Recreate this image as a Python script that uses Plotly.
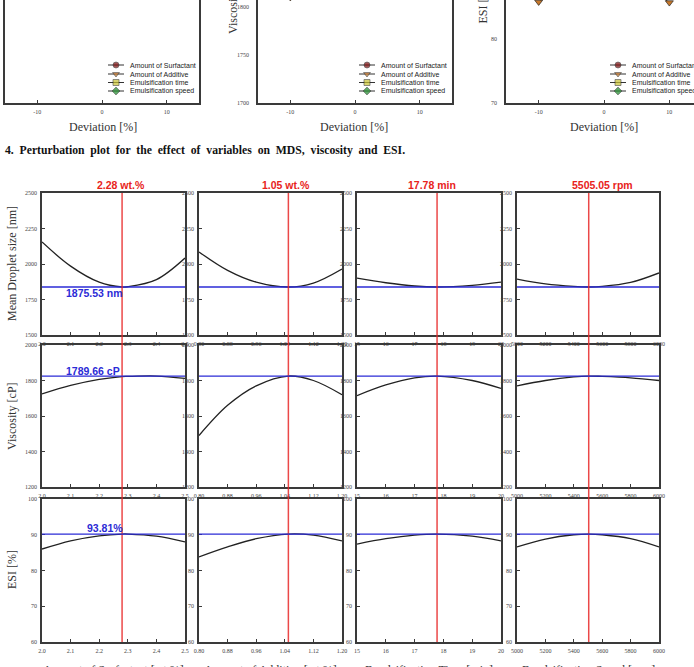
import plotly.graph_objects as go

W, H = 694, 667
def px(x): return x / W
def py(y): return 1 - y / H

# ---------------- data ----------------
# perturbation plot (top, cropped)
deviation = [-10, -5, 0, 5, 10]
pert_names = ["Amount of Surfactant", "Amount of Additive", "Emulsification time", "Emulsification speed"]
pert_colors = ["#7a0a0a", "#c8782a", "#c8c232", "#1f8a2a"]
pert_symbols = ["circle", "triangle-down", "square", "diamond"]
mds_pert = [[1960, 1870, 1838, 1852, 1905], [1930, 1862, 1838, 1850, 1880],
            [1870, 1845, 1838, 1842, 1855], [1880, 1848, 1838, 1845, 1870]]
visc_pert = [[1812, 1822, 1825, 1824, 1818], [1810, 1820, 1825, 1822, 1812],
             [1815, 1823, 1825, 1824, 1818], [1818, 1823, 1825, 1824, 1820]]
esi_pert = [[87.5, 89.6, 90.2, 89.8, 88.6], [85.8, 89.0, 90.2, 89.4, 85.7],
            [88.9, 89.9, 90.2, 90.0, 89.3], [87.6, 89.5, 90.2, 89.6, 87.6]]

# optimisation grid (bottom)
var_x = [
    [2.0, 2.1, 2.2, 2.28, 2.3, 2.4, 2.5],
    [0.80, 0.88, 0.96, 1.05, 1.12, 1.20],
    [15, 16, 17, 17.78, 19, 20],
    [5000, 5200, 5400, 5505, 5600, 5800, 6000],
]
mds_vals = [
    [2155, 1985, 1872, 1838, 1840, 1890, 2042],
    [2085, 1955, 1872, 1838, 1866, 1965],
    [1900, 1868, 1845, 1838, 1850, 1873],
    [1894, 1860, 1842, 1838, 1842, 1870, 1937],
]
visc_vals = [
    [1724, 1772, 1806, 1822, 1823, 1825, 1812],
    [1490, 1660, 1770, 1825, 1800, 1720],
    [1715, 1775, 1815, 1825, 1800, 1755],
    [1770, 1800, 1820, 1825, 1823, 1815, 1800],
]
esi_vals = [
    [86.0, 88.3, 89.7, 90.2, 90.2, 89.6, 88.0],
    [83.8, 86.6, 88.9, 90.2, 89.9, 88.3],
    [87.4, 88.9, 89.9, 90.2, 89.6, 88.3],
    [86.6, 88.8, 90.0, 90.2, 90.0, 88.9, 86.6],
]
optimum = [2.28, 1.05, 17.78, 5505.05]
optimum_labels = ["2.28 wt.%", "1.05 wt.%", "17.78 min", "5505.05 rpm"]
resp_opt_line = [1838, 1825, 90.2]
resp_opt_labels = ["1875.53 nm", "1789.66 cP", "93.81%"]
resp_titles = ["Mean Droplet size [nm]", "Viscosity [cP]", "ESI [%]"]
var_titles = ["Amount of Surfactant [wt.%]", "Amount of Additive [wt.%]",
              "Emulsification Time [min]", "Emulsification Speed [rpm]"]
x_ranges = [[2.0, 2.5], [0.80, 1.20], [15, 20], [5000, 6000]]
x_ticks = [[2.0, 2.1, 2.2, 2.3, 2.4, 2.5], [0.80, 0.88, 0.96, 1.04, 1.12, 1.20],
           [15, 16, 17, 18, 19, 20], [5000, 5200, 5400, 5600, 5800, 6000]]
x_ticktext = [["2.0", "2.1", "2.2", "2.3", "2.4", "2.5"],
              ["0.80", "0.88", "0.96", "1.04", "1.12", "1.20"],
              ["15", "16", "17", "18", "19", "20"],
              ["5000", "5200", "5400", "5600", "5800", "6000"]]
y_ranges = [[1500, 2500], [1200, 2000], [60, 100]]
y_ticks = [[1500, 1750, 2000, 2250, 2500], [1200, 1400, 1600, 1800, 2000], [60, 70, 80, 90, 100]]

# ---------------- layout geometry (pixels) ----------------
cols = [(42, 185), (199, 342), (357, 501), (517, 659)]
rows = [(193, 335), (345, 487), (499, 642)]

SERIF = "Liberation Serif"
SANS = "Liberation Sans"
FRAME = "#3a3a3a"

fig = go.Figure()
layout = dict(width=W, height=H, margin=dict(l=0, r=0, t=0, b=0, pad=0, autoexpand=False),
              paper_bgcolor="white", plot_bgcolor="rgba(0,0,0,0)", showlegend=False)
shapes, annotations = [], []

def ax_style(**kw):
    d = dict(showline=True, linecolor=FRAME, linewidth=1.5, ticks="inside", ticklen=3,
             tickcolor=FRAME, tickwidth=1, showgrid=False, zeroline=False, automargin=False,
             tickfont=dict(family=SERIF, size=6, color="#444"), ticklabelstandoff=2)
    d.update(kw)
    return d

all_vals = [mds_vals, visc_vals, esi_vals]
n = 0
for r in range(3):
    for c in range(4):
        n += 1
        xa = "xaxis" if n == 1 else f"xaxis{n}"
        ya = "yaxis" if n == 1 else f"yaxis{n}"
        xr = "x" if n == 1 else f"x{n}"
        yr = "y" if n == 1 else f"y{n}"
        layout[xa] = ax_style(domain=[px(cols[c][0]), px(cols[c][1])], range=x_ranges[c],
                              tickvals=x_ticks[c], ticktext=x_ticktext[c], mirror=True,
                              anchor=yr)
        layout[ya] = ax_style(domain=[py(rows[r][1]), py(rows[r][0])], range=y_ranges[r],
                              tickvals=y_ticks[r], mirror=True, anchor=xr)
        fig.add_trace(go.Scatter(x=var_x[c], y=all_vals[r][c], mode="lines",
                                 line=dict(color="#222", width=1.3, shape="spline", smoothing=1),
                                 xaxis=xr, yaxis=yr, hoverinfo="skip"))
        shapes.append(dict(type="line", xref=f"{xr} domain", yref=yr, x0=0, x1=1,
                           y0=resp_opt_line[r], y1=resp_opt_line[r],
                           line=dict(color="#2b2bd6", width=1.3)))
        if r == 0:
            shapes.append(dict(type="line", xref=xr, yref="paper", x0=optimum[c], x1=optimum[c],
                               y0=py(642), y1=py(193),
                               line=dict(color="rgba(232,40,40,0.85)", width=1.5)))

# red optimum labels
for c, cx in enumerate([121, 286, 432, 602]):
    annotations.append(dict(text=f"<b>{optimum_labels[c]}</b>", x=px(cx), y=py(185),
                            xref="paper", yref="paper", showarrow=False,
                            xanchor="center", yanchor="middle",
                            font=dict(family=SANS, size=10.5, color="#e8231b")))
# blue response labels
for r, (cx, cy) in enumerate([(95, 293), (93, 371), (105, 528)]):
    annotations.append(dict(text=f"<b>{resp_opt_labels[r]}</b>", x=px(cx), y=py(cy),
                            xref="paper", yref="paper", showarrow=False,
                            xanchor="center", yanchor="middle",
                            font=dict(family=SANS, size=10.5, color="#2b2bd6")))
# y titles
for r, cy in enumerate([264, 416, 570]):
    annotations.append(dict(text=resp_titles[r], x=px(12), y=py(cy), xref="paper", yref="paper",
                            showarrow=False, textangle=-90, xanchor="center", yanchor="middle",
                            font=dict(family=SERIF, size=12, color="#333")))
# bottom x titles (cropped)
for c in range(4):
    cx = (cols[c][0] + cols[c][1]) / 2
    annotations.append(dict(text=var_titles[c], x=px(cx), y=py(661), xref="paper", yref="paper",
                            showarrow=False, xanchor="center", yanchor="top",
                            font=dict(family=SERIF, size=12, color="#333")))
# caption
annotations.append(dict(text="<b>4.  Perturbation  plot  for  the  effect  of  variables  on  MDS,  viscosity  and  ESI.</b>",
                        x=px(3), y=py(150), xref="paper", yref="paper", showarrow=False,
                        xanchor="left", yanchor="middle",
                        font=dict(family=SERIF, size=11.7, color="#111")))

# ---------------- top perturbation panels (cropped) ----------------
top_panels = [
    dict(dom=(5, 199), yrange=[1600, 1814.6], yticks=[1600, 1700, 1800], xr=[-15, 15], data=mds_pert),
    dict(dom=(258, 452), yrange=[1700, 1807.3], yticks=[1700, 1750, 1800], xr=[-15, 15], data=visc_pert),
    dict(dom=(506, 694), yrange=[70, 86.1], yticks=[70, 80], xr=[-15, 13.77], data=esi_pert),
]
for i, tp in enumerate(top_panels):
    k = 13 + i
    xr, yr = f"x{k}", f"y{k}"
    layout[f"xaxis{k}"] = ax_style(domain=[px(tp["dom"][0]), px(tp["dom"][1])], range=tp["xr"],
                                   tickvals=[-10, 0, 10], ticktext=["-10", "0", "10"],
                                   mirror=False, anchor=yr)
    layout[f"yaxis{k}"] = ax_style(domain=[py(103), 1], range=tp["yrange"], tickvals=tp["yticks"],
                                   mirror=True, anchor=xr, ticks="", ticklabelstandoff=6)
    for s in range(4):
        fig.add_trace(go.Scatter(x=deviation, y=tp["data"][s], mode="lines+markers",
                                 line=dict(color="#333", width=1),
                                 marker=dict(symbol=pert_symbols[s], size=7, color=pert_colors[s],
                                             line=dict(color="#222", width=0.7)),
                                 xaxis=xr, yaxis=yr, hoverinfo="skip"))
annotations += [
    dict(text="Deviation [%]", x=px(cxp), y=py(127), xref="paper", yref="paper", showarrow=False,
         xanchor="center", yanchor="middle", font=dict(family=SERIF, size=12, color="#333"))
    for cxp in (103, 354, 604)
]
annotations.append(dict(text="Viscosity [cP]", x=px(233), y=py(36), xref="paper", yref="paper",
                        showarrow=False, textangle=-90, xanchor="center", yanchor="bottom",
                        font=dict(family=SERIF, size=12, color="#333")))
annotations.append(dict(text="ESI [%]", x=px(482), y=py(26), xref="paper", yref="paper",
                        showarrow=False, textangle=-90, xanchor="center", yanchor="bottom",
                        font=dict(family=SERIF, size=12, color="#333")))

# legends drawn on an overlay pixel axis
layout["xaxis16"] = dict(domain=[0, 1], range=[0, W], visible=False, fixedrange=True, anchor="y16")
layout["yaxis16"] = dict(domain=[0, 1], range=[H, 0], visible=False, fixedrange=True, anchor="x16")
legend_rows = [65, 74, 82.5, 91]
for (lx0, mx, lx1, tx) in [(108, 116, 124, 128), (359, 367, 375, 379), (610, 618, 626, 630)]:
    for s in range(4):
        yy = legend_rows[s]
        fig.add_trace(go.Scatter(x=[lx0, mx, lx1], y=[yy, yy, yy], mode="lines+markers",
                                 line=dict(color="#333", width=1),
                                 marker=dict(symbol=pert_symbols[s], size=[0, 6, 0], color=pert_colors[s],
                                             line=dict(color="#222", width=0.7)),
                                 xaxis="x16", yaxis="y16", cliponaxis=False, hoverinfo="skip"))
        annotations.append(dict(text=pert_names[s], x=tx, y=yy, xref="x16", yref="y16",
                                showarrow=False, xanchor="left", yanchor="middle",
                                font=dict(family=SANS, size=7, color="#222")))

layout["shapes"] = shapes
layout["annotations"] = annotations
fig.update_layout(**layout)
fig.write_html("out.html")
